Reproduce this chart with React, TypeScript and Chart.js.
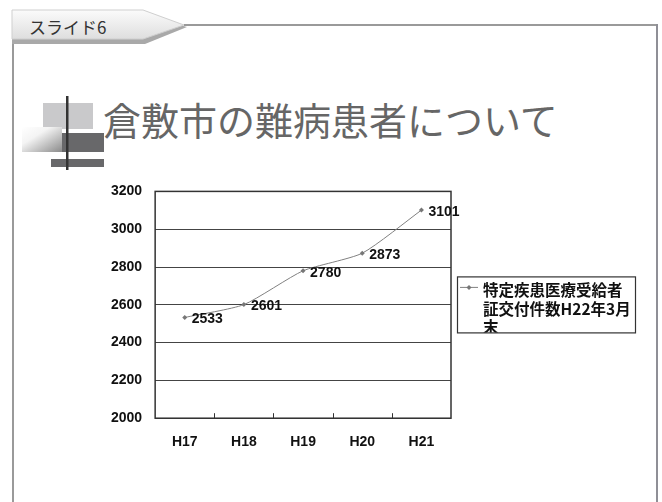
import React, { useEffect, useRef } from "react";
import { Chart, registerables } from "chart.js";

Chart.register(...registerables);

// ---- data ----
const categories = ["H17", "H18", "H19", "H20", "H21"];
const values = [2533, 2601, 2780, 2873, 3101];
const yMin = 2000;
const yMax = 3200;
const yStep = 200;
const seriesLabelLines = ["特定疾患医療受給者", "証交付件数H22年3月", "末"];
const slideTabText = "スライド6";
const titleText = "倉敷市の難病患者について";

const NUM_FONT = "'Liberation Sans', Arial, sans-serif";
const CJK_FONT = "'Noto Sans CJK JP', 'Noto Sans', sans-serif";

const CANVAS_LEFT = 87;
const CANVAS_TOP = 170;
const CW = 550;
const CH = 297;

const customPlugin = {
  id: "customDecor",
  afterDatasetsDraw(chart: any) {
    const ctx = chart.ctx as CanvasRenderingContext2D;
    const { left, right, top, bottom } = chart.chartArea;
    ctx.save();
    // plot frame
    ctx.strokeStyle = "#333";
    ctx.lineWidth = 1.5;
    ctx.strokeRect(left, top, right - left, bottom - top);
    // inside tick marks between categories
    const xs = chart.scales.x;
    ctx.lineWidth = 1;
    ctx.beginPath();
    for (let i = 0; i < categories.length - 1; i++) {
      const px = Math.round((xs.getPixelForValue(i) + xs.getPixelForValue(i + 1)) / 2) + 0.5;
      ctx.moveTo(px, bottom - 5);
      ctx.lineTo(px, bottom);
    }
    ctx.stroke();
    // data labels
    const meta = chart.getDatasetMeta(0);
    ctx.font = `bold 14px ${NUM_FONT}`;
    ctx.fillStyle = "#111";
    ctx.textBaseline = "middle";
    ctx.textAlign = "left";
    meta.data.forEach((pt: any, i: number) => {
      ctx.fillText(String(values[i]), pt.x + 7, pt.y + 2);
    });
    // legend box
    const lx = right + 6;
    const ly = top + 85;
    const lw = 178;
    const lh = 56;
    ctx.fillStyle = "#fff";
    ctx.fillRect(lx, ly, lw, lh);
    ctx.strokeStyle = "#333";
    ctx.lineWidth = 1.2;
    ctx.strokeRect(lx + 0.5, ly + 0.5, lw, lh);
    // sample line + marker
    ctx.strokeStyle = "#808080";
    ctx.lineWidth = 1;
    ctx.beginPath();
    ctx.moveTo(lx + 3, ly + 11);
    ctx.lineTo(lx + 21, ly + 11);
    ctx.stroke();
    ctx.fillStyle = "#777";
    ctx.beginPath();
    const mx = lx + 12, my = ly + 11, r = 2.5;
    ctx.moveTo(mx, my - r);
    ctx.lineTo(mx + r, my);
    ctx.lineTo(mx, my + r);
    ctx.lineTo(mx - r, my);
    ctx.closePath();
    ctx.fill();
    // legend text (clipped inside box)
    ctx.save();
    ctx.beginPath();
    ctx.rect(lx + 1, ly + 1, lw - 1, lh - 1);
    ctx.clip();
    ctx.font = `bold 15.5px ${CJK_FONT}`;
    ctx.fillStyle = "#111";
    ctx.textBaseline = "middle";
    seriesLabelLines.forEach((line, i) => {
      ctx.fillText(line, lx + 26, ly + 14 + i * 18.5);
    });
    ctx.restore();
    ctx.restore();
  },
};

function LineChart() {
  const ref = useRef<HTMLCanvasElement | null>(null);
  useEffect(() => {
    if (!ref.current) return;
    const chart = new Chart(ref.current, {
      type: "line",
      data: {
        labels: categories,
        datasets: [
          {
            label: seriesLabelLines.join(""),
            data: values,
            borderColor: "#808080",
            borderWidth: 1,
            backgroundColor: "#777",
            pointStyle: "rectRot",
            pointRadius: 2.5,
            pointBackgroundColor: "#777",
            pointBorderColor: "#777",
            pointBorderWidth: 0,
            tension: 0.2,
            fill: false,
          },
        ],
      },
      options: {
        responsive: false,
        animation: false,
        devicePixelRatio: 1,
        layout: { padding: { left: 11, right: 186, top: 0, bottom: 0 } },
        plugins: { legend: { display: false }, tooltip: { enabled: false } },
        scales: {
          x: {
            offset: true,
            grid: { display: false, drawTicks: false },
            border: { display: false },
            ticks: {
              font: { family: NUM_FONT, size: 14, weight: "bold" },
              color: "#111",
              padding: 16,
            },
          },
          y: {
            min: yMin,
            max: yMax,
            grid: { color: "#444", lineWidth: 1, drawTicks: false },
            border: { display: false },
            ticks: {
              stepSize: yStep,
              font: { family: NUM_FONT, size: 14, weight: "bold" },
              color: "#111",
              padding: 13,
              callback: (v: any) => String(v),
            },
          },
        },
      },
      plugins: [customPlugin],
    } as any);
    return () => chart.destroy();
  }, []);
  return (
    <canvas
      ref={ref}
      width={CW}
      height={CH}
      style={{ position: "absolute", left: CANVAS_LEFT, top: CANVAS_TOP, width: CW, height: CH }}
    />
  );
}

export default function App() {
  useEffect(() => {
    document.body.style.margin = "0";
  }, []);
  return (
    <div
      style={{
        position: "fixed",
        left: 0,
        top: 0,
        width: 662,
        height: 502,
        background: "#fff",
        overflow: "hidden",
      }}
    >
      <svg width={662} height={502} style={{ position: "absolute", left: 0, top: 0 }}>
        <defs>
          <linearGradient id="tabGrad" x1="0" y1="0" x2="0" y2="1">
            <stop offset="0" stopColor="#fbfbfb" />
            <stop offset="1" stopColor="#dedede" />
          </linearGradient>
          <linearGradient id="sqGrad" x1="0" y1="0" x2="1" y2="1">
            <stop offset="0" stopColor="#ffffff" />
            <stop offset="0.35" stopColor="#f4f4f4" />
            <stop offset="1" stopColor="#8a8a8a" />
          </linearGradient>
        </defs>
        {/* frame lines */}
        <line x1={184} y1={25} x2={658} y2={25} stroke="#9a9a9a" strokeWidth={2} />
        <line x1={657} y1={24} x2={657} y2={502} stroke="#8f8f96" strokeWidth={2} />
        <line x1={13} y1={38} x2={13} y2={502} stroke="#9a9a9a" strokeWidth={2} />
        {/* tab */}
        <polygon points="12,15 145,15 187,27 145,44 12,44" fill="#a9a9a9" />
        <polygon points="12,10 143,10 184,25 143,39 12,39" fill="url(#tabGrad)" stroke="#cfcfcf" strokeWidth={1} />
        {/* decorative squares */}
        <rect x={43} y={103} width={50} height={26} fill="#c9c9cb" />
        <rect x={22} y={127} width={40} height={25} fill="url(#sqGrad)" />
        <rect x={62} y={133} width={42} height={19} fill="#68686a" />
        <rect x={51} y={159} width={53} height={8} fill="#68686a" />
        <rect x={66} y={96} width={2.5} height={74} fill="#333" />
      </svg>
      <div
        style={{
          position: "absolute",
          left: 29,
          top: 18,
          fontFamily: CJK_FONT,
          fontSize: 17,
          lineHeight: "17px",
          color: "#333",
          whiteSpace: "nowrap",
        }}
      >
        {slideTabText}
      </div>
      <div
        style={{
          position: "absolute",
          left: 103,
          top: 100,
          fontFamily: CJK_FONT,
          fontSize: 38,
          lineHeight: "38px",
          color: "#666",
          whiteSpace: "nowrap",
        }}
      >
        {titleText}
      </div>
      <LineChart />
    </div>
  );
}
